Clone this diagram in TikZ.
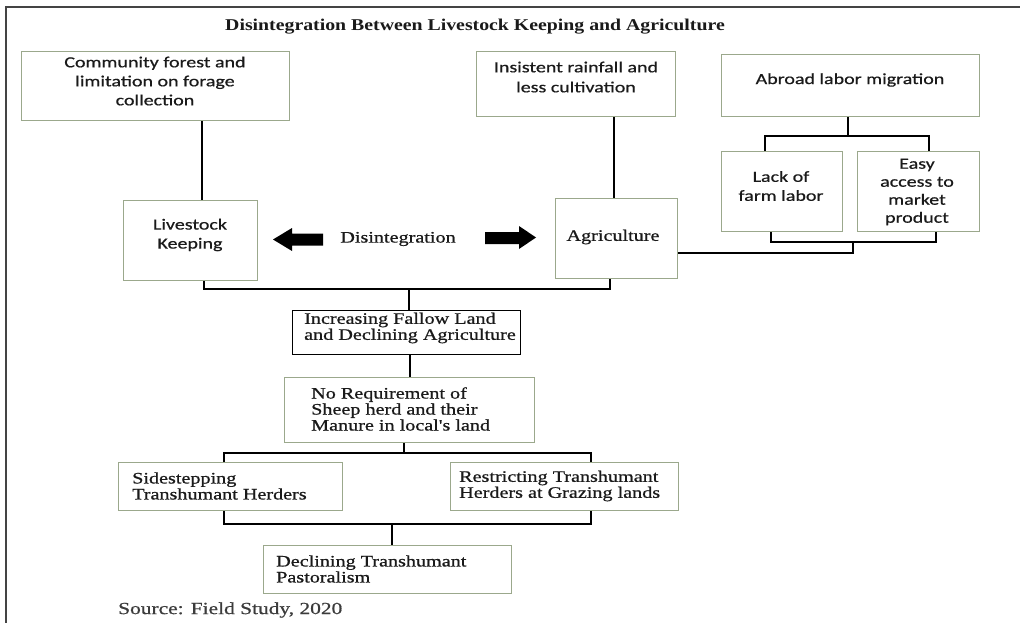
\documentclass[tikz,border=0pt]{standalone}
\usepackage{fontspec}
\newfontfamily\calfont[FakeStretch=1.29,FakeBold=0.6]{Carlito}
\newfontfamily\tnrfont[FakeStretch=1.26,FakeBold=0.8]{Liberation Serif}
\newfontfamily\tnrbfont[FakeStretch=1.2]{Liberation Serif}
\definecolor{boxgreen}{HTML}{9BA88C}
\definecolor{txt}{HTML}{1A1A1A}
\definecolor{frame}{HTML}{444444}
\begin{document}
\begin{tikzpicture}[x=1pt,y=-1pt,
  gbox/.style={draw=boxgreen, line width=1.4pt, anchor=north west, inner sep=0pt},
  kbox/.style={draw=black, line width=1.4pt, anchor=north west, inner sep=0pt},
  stxt/.style={font=\calfont\fontsize{15.5}{19}\selectfont, text=txt, align=center, inner sep=0pt},
  rtxt/.style={font=\tnrfont\fontsize{16}{16}\selectfont, text=txt, align=left, inner sep=0pt, anchor=west},
  conn/.style={draw=black, line width=1.3pt}]
\useasboundingbox (0,0) rectangle (1020,623);
% frame
\draw[frame, line width=1.5pt] (6,623) -- (6,7) -- (1020,7);
% title
\node[font=\tnrbfont\bfseries\fontsize{16.5}{18}\selectfont, text=txt, inner sep=0pt] (title) at (475,27) {Disintegration Between Livestock Keeping and Agriculture};
% boxes
\node[gbox, minimum width=268pt, minimum height=69pt] (comm) at (21,51) {};
\node[gbox, minimum width=199pt, minimum height=65pt] (insist) at (476,51) {};
\node[gbox, minimum width=258pt, minimum height=62pt] (abroad) at (721,54) {};
\node[gbox, minimum width=121pt, minimum height=80pt] (lack) at (721,151) {};
\node[gbox, minimum width=122pt, minimum height=80pt] (easy) at (857,151) {};
\node[gbox, minimum width=134pt, minimum height=80pt] (live) at (123,200) {};
\node[gbox, minimum width=122pt, minimum height=80pt] (agri) at (555,198) {};
\node[kbox, minimum width=228pt, minimum height=44pt] (incr) at (292,310) {};
\node[gbox, minimum width=250pt, minimum height=65pt] (noreq) at (284,377) {};
\node[gbox, minimum width=224pt, minimum height=48pt] (side) at (118,462) {};
\node[gbox, minimum width=228pt, minimum height=48pt] (rest) at (450,462) {};
\node[gbox, minimum width=248pt, minimum height=48pt] (decl) at (263,545) {};
% texts
\node[stxt] (tcomm) at (155,81) {Community forest and\\limitation on forage\\collection};
\node[stxt, font=\calfont\fontsize{15.5}{20}\selectfont] (tinsist) at (576,77) {Insistent rainfall and\\less cultivation};
\node[stxt] (tabroad) at (850,80) {Abroad labor migration};
\node[stxt] (tlack) at (781,186) {Lack of\\farm labor};
\node[stxt, font=\calfont\fontsize{15.5}{18}\selectfont] (teasy) at (917,192) {Easy\\access to\\market\\product};
\node[stxt] (tlive) at (190,235) {Livestock\\Keeping};
\node[rtxt, anchor=center] (tagri) at (613,237) {Agriculture};
\node[rtxt, anchor=center] (tdis) at (398,239) {Disintegration};
\node[rtxt] (tincr) at (304,328) {Increasing Fallow Land\\and Declining Agriculture};
\node[rtxt] (tnoreq) at (311,409) {No Requirement of\\Sheep herd and their\\Manure in local's land};
\node[rtxt] (tside) at (132,486) {Sidestepping\\Transhumant Herders};
\node[rtxt] (trest) at (459,486) {Restricting Transhumant\\Herders at Grazing lands};
\node[rtxt] (tdecl) at (276,569) {Declining Transhumant\\Pastoralism};
\node[font=\tnrfont\fontsize{17}{18}\selectfont, text=txt!85, inner sep=0pt, anchor=west] (src) at (118,610) {Source: Field Study, 2020};
% block arrows
\fill[black] (273,239.5) -- (292,228) -- (292,233.5) -- (323,233.5) -- (323,245.5) -- (292,245.5) -- (292,251) -- cycle;
\fill[black] (536,237.5) -- (519,226) -- (519,232) -- (485,232) -- (485,244) -- (519,244) -- (519,249) -- cycle;
% coordinates for connector x positions and junctions
\coordinate (xc) at (202,0);
\coordinate (xi) at (614,0);
\coordinate (ja) at (848,136);
\coordinate (xl) at (765,0);
\coordinate (xe) at (929,0);
\coordinate (xlb) at (771,0);
\coordinate (xeb) at (936,0);
\coordinate (jb) at (853,242);
\coordinate (jc) at (853,253);
\coordinate (xlv) at (204,0);
\coordinate (xag) at (610,0);
\coordinate (jd) at (409,289);
\coordinate (xin) at (410,0);
\coordinate (je) at (404,453);
\coordinate (xs) at (224,0);
\coordinate (xr) at (591,0);
\coordinate (jf) at (392,524);
% connectors
\draw[conn] (xc |- comm.south) -- (xc |- live.north);
\draw[conn] (xi |- insist.south) -- (xi |- agri.north);
\draw[conn] (ja |- abroad.south) -- (ja);
\draw[conn] (xl |- lack.north) |- (ja) -| (xe |- easy.north);
\draw[conn] (xlb |- lack.south) |- (jb) -| (xeb |- easy.south);
\draw[conn] (jb) -- (jc) -- (agri.east |- jc);
\draw[conn] (xlv |- live.south) |- (jd) -| (xag |- agri.south);
\draw[conn] (jd) -- (jd |- incr.north);
\draw[conn] (xin |- incr.south) -- (xin |- noreq.north);
\draw[conn] (je |- noreq.south) -- (je);
\draw[conn] (xs |- side.north) |- (je) -| (xr |- rest.north);
\draw[conn] (xs |- side.south) |- (jf) -| (xr |- rest.south);
\draw[conn] (jf) -- (jf |- decl.north);
\end{tikzpicture}
\end{document}
